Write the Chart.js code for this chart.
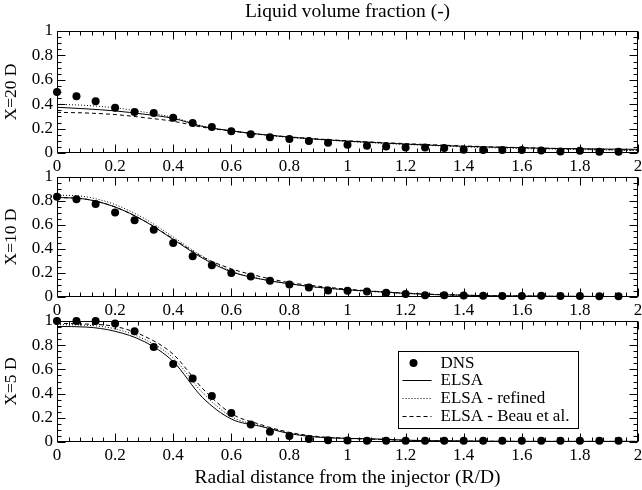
<!DOCTYPE html>
<html>
<head>
<meta charset="utf-8">
<script src="https://cdn.jsdelivr.net/npm/chart.js@4.4.1/dist/chart.umd.min.js"></script>
<style>
  html, body { margin: 0; padding: 0; background: #fff; }
  #wrap { position: relative; width: 642px; height: 490px; overflow: hidden; }
  canvas { position: absolute; left: 0; }
</style>
</head>
<body>
<div id="wrap">
  <canvas id="p20" width="642" height="178" style="top:0px"></canvas>
  <canvas id="p10" width="642" height="168" style="top:155px"></canvas>
  <canvas id="p5" width="642" height="190" style="top:300px"></canvas>
</div>
<script>
// ================= DATA =================
const xTicks = [0, 0.2, 0.4, 0.6, 0.8, 1, 1.2, 1.4, 1.6, 1.8, 2];
const xTickLabels = ["0", "0.2", "0.4", "0.6", "0.8", "1", "1.2", "1.4", "1.6", "1.8", "2"];
const yTicks = [0, 0.2, 0.4, 0.6, 0.8, 1];
const yTickLabels = ["0", "0.2", "0.4", "0.6", "0.8", "1"];

// DNS sample positions (R/D)
const dnsR = [0, 0.067, 0.133, 0.2, 0.267, 0.333, 0.4, 0.467, 0.533, 0.6,
              0.667, 0.733, 0.8, 0.867, 0.933, 1.0, 1.067, 1.133, 1.2, 1.267,
              1.333, 1.4, 1.467, 1.533, 1.6, 1.667, 1.733, 1.8, 1.867, 1.933];

// model output positions (R/D)
const modelR = [0, 0.1, 0.2, 0.3, 0.4, 0.5, 0.6, 0.7, 0.8, 0.9, 1.0,
                1.1, 1.2, 1.3, 1.4, 1.5, 1.6, 1.7, 1.8, 1.9, 2.0];

// X = 20 D
const dns20 = [0.50, 0.465, 0.425, 0.37, 0.337, 0.328, 0.288, 0.245, 0.213, 0.178,
               0.153, 0.13, 0.115, 0.098, 0.083, 0.067, 0.06, 0.053, 0.045, 0.045,
               0.04, 0.027, 0.025, 0.024, 0.024, 0.02, 0.013, 0.018, 0.01, 0.01];
const elsa20 = [0.375, 0.362, 0.345, 0.318, 0.284, 0.218, 0.182, 0.153, 0.13, 0.112, 0.097,
                0.085, 0.073, 0.063, 0.055, 0.048, 0.043, 0.038, 0.035, 0.032, 0.03];
const refined20 = [0.40, 0.39, 0.37, 0.335, 0.292, 0.222, 0.181, 0.151, 0.128, 0.11, 0.095,
                   0.082, 0.07, 0.06, 0.05, 0.043, 0.037, 0.032, 0.028, 0.024, 0.02];
const beau20 = [0.333, 0.328, 0.315, 0.29, 0.26, 0.212, 0.18, 0.153, 0.132, 0.115, 0.1,
                0.088, 0.077, 0.067, 0.058, 0.05, 0.044, 0.038, 0.033, 0.028, 0.024];

// X = 10 D
const dns10 = [0.835, 0.815, 0.775, 0.705, 0.64, 0.56, 0.45, 0.34, 0.265, 0.2,
               0.17, 0.135, 0.105, 0.08, 0.055, 0.053, 0.045, 0.035, 0.025, 0.015,
               0.015, 0.013, 0.01, 0.008, 0.008, 0.01, 0.008, 0.008, 0.006, 0.006];
const elsa10 = [0.83, 0.815, 0.75, 0.635, 0.48, 0.325, 0.21, 0.15, 0.11, 0.08, 0.06,
                0.045, 0.03, 0.02, 0.015, 0.01, 0.008, 0.006, 0.005, 0.004, 0.004];
const refined10 = [0.85, 0.835, 0.77, 0.655, 0.50, 0.34, 0.215, 0.15, 0.11, 0.08, 0.058,
                   0.043, 0.03, 0.02, 0.015, 0.01, 0.008, 0.006, 0.005, 0.004, 0.004];
const beau10 = [0.83, 0.815, 0.75, 0.635, 0.485, 0.335, 0.235, 0.17, 0.12, 0.09, 0.065,
                0.047, 0.033, 0.022, 0.015, 0.01, 0.008, 0.006, 0.005, 0.004, 0.004];

// X = 5 D
const dns5 = [1.0, 1.0, 1.0, 0.98, 0.915, 0.785, 0.645, 0.525, 0.38, 0.24,
              0.145, 0.085, 0.05, 0.025, 0.015, 0.012, 0.01, 0.01, 0.01, 0.01,
              0.01, 0.01, 0.01, 0.01, 0.01, 0.01, 0.01, 0.01, 0.01, 0.01];
const elsa5 = [0.955, 0.95, 0.915, 0.83, 0.665, 0.37, 0.19, 0.13, 0.07, 0.04, 0.03,
               0.025, 0.015, 0.01, 0.008, 0.006, 0.005, 0.005, 0.005, 0.005, 0.005];
const refined5 = [0.97, 0.965, 0.935, 0.85, 0.695, 0.41, 0.21, 0.135, 0.075, 0.04, 0.03,
                  0.022, 0.014, 0.01, 0.008, 0.006, 0.005, 0.005, 0.005, 0.005, 0.005];
const beau5 = [0.98, 0.975, 0.955, 0.875, 0.725, 0.445, 0.235, 0.145, 0.08, 0.045, 0.03,
               0.022, 0.014, 0.01, 0.008, 0.006, 0.005, 0.005, 0.005, 0.005, 0.005];

const seriesNames = ["DNS", "ELSA", "ELSA - refined", "ELSA - Beau et al."];

// ================= STYLE =================
const SERIF = '"Liberation Serif", "Times New Roman", serif';
const INK = "#000";

function pts(xs, ys) {
    return xs.map((x, i) => ({ x: x, y: ys[i] }));
}

function makeDatasets(dns, elsa, refined, beau) {
    const line = (label, data, dash) => ({
        label: label,
        data: pts(modelR, data),
        showLine: true,
        borderColor: INK,
        borderWidth: 1,
        borderDash: dash,
        pointRadius: 0,
        cubicInterpolationMode: "monotone"
    });
    return [
        {
            label: seriesNames[0],
            data: pts(dnsR, dns),
            showLine: false,
            pointRadius: 4,
            pointBackgroundColor: INK,
            pointBorderWidth: 0,
            clip: false
        },
        line(seriesNames[1], elsa, []),
        line(seriesNames[2], refined, [1, 2]),
        line(seriesNames[3], beau, [4, 3])
    ];
}

// ================= PLUGINS =================
// box frame with inward ticks on all four sides
const frameTicks = {
    id: "frameTicks",
    beforeDatasetsDraw(chart) {
        const { ctx, chartArea: a, scales } = chart;
        const x = scales.x, y = scales.y;
        const L = Math.round(a.left) + 0.5, R = Math.round(a.right) - 0.5;
        const T = Math.round(a.top) + 0.5, B = Math.round(a.bottom) - 0.5;
        ctx.save();
        ctx.strokeStyle = INK;
        ctx.lineWidth = 1;
        ctx.strokeRect(L, T, R - L, B - T);
        ctx.beginPath();
        for (let i = 0; i <= 50; i++) {
            const px = Math.round(x.getPixelForValue(i * 0.04)) + 0.5;
            const len = i % 5 === 0 ? 8 : 4;
            ctx.moveTo(px, B); ctx.lineTo(px, B - len);
            ctx.moveTo(px, T); ctx.lineTo(px, T + len);
        }
        for (let i = 0; i <= 20; i++) {
            const py = Math.round(y.getPixelForValue(i * 0.05)) + 0.5;
            const len = i % 4 === 0 ? 8 : 4;
            ctx.moveTo(L, py); ctx.lineTo(L + len, py);
            ctx.moveTo(R, py); ctx.lineTo(R - len, py);
        }
        ctx.stroke();
        ctx.restore();
    }
};

// boxed legend inside the lower panel
const boxLegend = {
    id: "boxLegend",
    afterDraw(chart) {
        const { ctx, chartArea: a } = chart;
        const bx = Math.round(a.left + 341) + 0.5, by = Math.round(a.top + 30) + 0.5;
        const bw = 180, bh = 77;
        ctx.save();
        ctx.fillStyle = "#fff";
        ctx.fillRect(bx, by, bw, bh);
        ctx.strokeStyle = INK;
        ctx.lineWidth = 1;
        ctx.strokeRect(bx, by, bw, bh);
        ctx.font = "17px " + SERIF;
        ctx.textBaseline = "middle";
        ctx.fillStyle = INK;
        chart.data.datasets.forEach((ds, i) => {
            const cy = Math.round(by + 11 + i * 17.7);
            if (ds.showLine === false) {
                ctx.beginPath();
                ctx.arc(bx + 15, cy, 4, 0, Math.PI * 2);
                ctx.fill();
            } else {
                ctx.beginPath();
                ctx.setLineDash(ds.borderDash);
                ctx.moveTo(bx + 4, cy + 0.5);
                ctx.lineTo(bx + 33, cy + 0.5);
                ctx.stroke();
                ctx.setLineDash([]);
            }
            ctx.fillText(ds.label, bx + 42, cy + 1);
        });
        ctx.restore();
    }
};

// ================= CHART FUNCTION =================
function renderPanel(id, opts) {
    const canvas = document.getElementById(id);
    const tickFont = { family: SERIF, size: 17 };

    const scales = {
        x: {
            type: "linear",
            position: "bottom",
            min: 0,
            max: 2,
            grid: { display: false, drawTicks: false },
            border: { display: false },
            afterBuildTicks: s => { s.ticks = xTicks.map(v => ({ value: v })); },
            ticks: {
                color: INK,
                font: tickFont,
                padding: 3,
                autoSkip: false,
                maxRotation: 0,
                callback: (v, i) => xTickLabels[i]
            },
            title: {
                display: !!opts.xTitle,
                text: opts.xTitle || "",
                color: INK,
                font: { family: SERIF, size: 19.5 },
                padding: { top: 0, bottom: 0 }
            },
            afterFit: s => { s.height = opts.bottomH; s.paddingLeft = 0; s.paddingRight = 0; }
        },
        y: {
            type: "linear",
            position: "left",
            min: 0,
            max: 1,
            grid: { display: false, drawTicks: false },
            border: { display: false },
            afterBuildTicks: s => { s.ticks = yTicks.map(v => ({ value: v })); },
            ticks: {
                color: INK,
                font: tickFont,
                padding: 4,
                callback: (v, i) => yTickLabels[i]
            },
            title: {
                display: true,
                text: opts.yTitle,
                color: INK,
                font: { family: SERIF, size: 17.5 },
                padding: { top: 1, bottom: 0 }
            },
            afterFit: s => { s.width = 57; s.paddingTop = 0; s.paddingBottom = 0; }
        }
    };

    if (opts.topTitle) {
        scales.xTop = {
            type: "linear",
            position: "top",
            min: 0,
            max: 2,
            grid: { display: false, drawTicks: false },
            border: { display: false },
            ticks: { display: false },
            title: {
                display: true,
                text: opts.topTitle,
                color: INK,
                font: { family: SERIF, size: 19.5 },
                padding: { top: 0, bottom: 0 }
            },
            afterFit: s => { s.height = 31; s.paddingLeft = 0; s.paddingRight = 0; }
        };
    }

    new Chart(canvas, {
        type: "scatter",
        data: { datasets: opts.datasets },
        options: {
            responsive: false,
            animation: false,
            devicePixelRatio: 1,
            layout: { padding: { left: 0, right: 4, top: opts.padTop, bottom: 0 } },
            scales: scales,
            plugins: {
                legend: { display: false },
                tooltip: { enabled: false }
            }
        },
        plugins: opts.legend ? [frameTicks, boxLegend] : [frameTicks]
    });
}

// ================= INIT =================
renderPanel("p20", {
    datasets: makeDatasets(dns20, elsa20, refined20, beau20),
    yTitle: "X=20 D",
    topTitle: "Liquid volume fraction (-)",
    padTop: 0,
    bottomH: 25
});

renderPanel("p10", {
    datasets: makeDatasets(dns10, elsa10, refined10, beau10),
    yTitle: "X=10 D",
    padTop: 22,
    bottomH: 26
});

renderPanel("p5", {
    datasets: makeDatasets(dns5, elsa5, refined5, beau5),
    yTitle: "X=5 D",
    xTitle: "Radial distance from the injector (R/D)",
    padTop: 21,
    bottomH: 48,
    legend: true
});
</script>
</body>
</html>
